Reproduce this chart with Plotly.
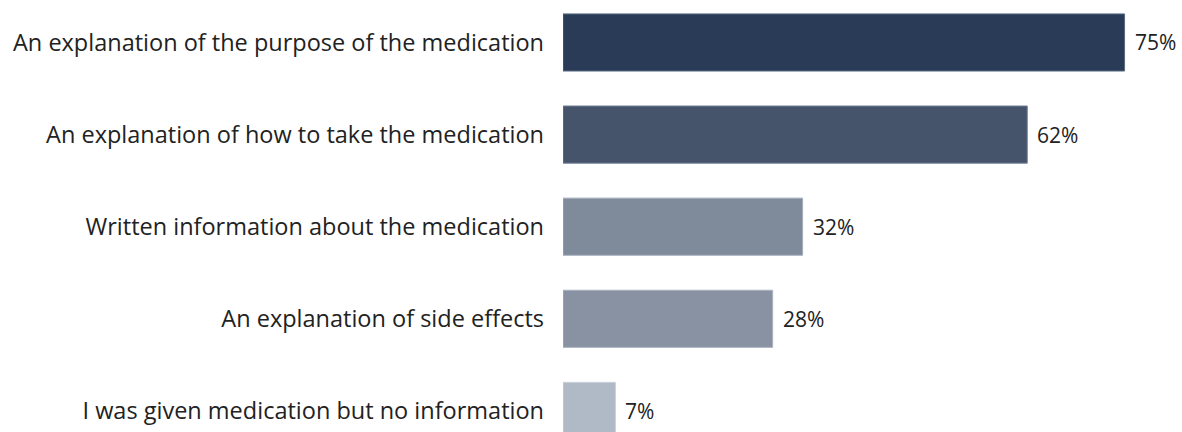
import plotly.graph_objects as go

categories = [
    "An explanation of the purpose of the medication",
    "An explanation of how to take the medication",
    "Written information about the medication",
    "An explanation of side effects",
    "I was given medication but no information",
]
values = [75, 62, 32, 28, 7]
value_labels = ["75%", "62%", "32%", "28%", "7%"]
colors = ["#293b57", "#45546b", "#7f8a9b", "#8892a3", "#b0bac7"]
line_colors = ["#5a6a82", "#6e7c92", "#a3adba", "#a9b2bf", "#c9d0da"]

fig = go.Figure()
fig.add_trace(go.Bar(
    y=categories,
    x=values,
    orientation="h",
    marker=dict(color=colors, line=dict(color=line_colors, width=1)),
    width=0.62,
    hoverinfo="skip",
))

for c, v, t in zip(categories, values, value_labels):
    fig.add_annotation(
        x=v, y=c, text=t, showarrow=False, xanchor="left", xshift=8,
        font=dict(family="Open Sans", size=21, color="#222222"),
    )

fig.update_layout(
    width=1182, height=432,
    margin=dict(l=563, r=20, t=0, b=0),
    paper_bgcolor="white", plot_bgcolor="white",
    showlegend=False,
    font=dict(family="Open Sans", size=23, color="#222222"),
    xaxis=dict(range=[0, 80], visible=False, fixedrange=True),
    yaxis=dict(
        categoryorder="array", categoryarray=categories,
        range=[4.229, -0.461],
        showgrid=False, zeroline=False, showline=False,
        ticks="", ticklabelstandoff=18,
        tickfont=dict(family="Open Sans", size=23.5, color="#222222"),
    ),
)

fig.write_html("out.html", config={"displayModeBar": False})
